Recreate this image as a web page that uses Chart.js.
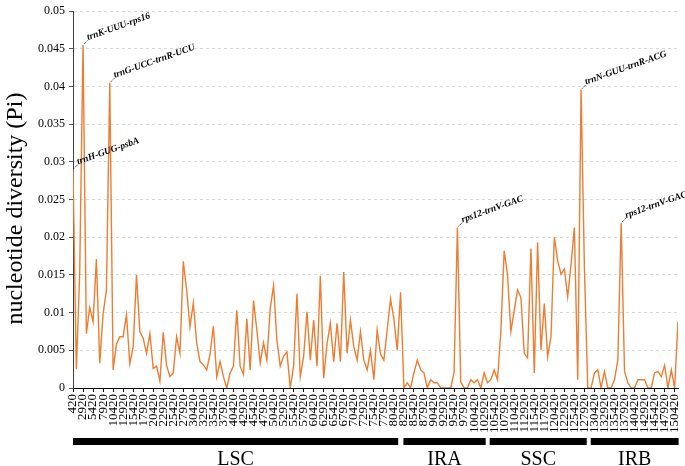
<!DOCTYPE html>
<html>
<head>
<meta charset="utf-8">
<script src="https://cdn.jsdelivr.net/npm/chart.js@4.4.1/dist/chart.umd.min.js"></script>
<style>
  html, body { margin: 0; padding: 0; background: #fff; }
</style>
</head>
<body>
<canvas id="piChart" width="685" height="466"></canvas>
<script>
// Ventanas deslizantes: posición inicial y paso (pb)
const windowStart = 420;
const windowStep = 2500 / 3;

// Valores de diversidad nucleotídica (Pi)
const piValues = [
    0.029, 0.0025, 0.0152, 0.0455, 0.0072, 0.0107, 0.0088, 0.0171, 0.0033, 0.0098,
    0.013, 0.0405, 0.0024, 0.0058, 0.0068, 0.0068, 0.0097, 0.0032, 0.0055, 0.015,
    0.0075, 0.0066, 0.0046, 0.0072, 0.0026, 0.0029, 0.0009, 0.0074, 0.003, 0.0015,
    0.002, 0.0068, 0.0046, 0.0168, 0.013, 0.0081, 0.0113, 0.006, 0.0035, 0.0031,
    0.0024, 0.0045, 0.0082, 0.0015, 0.0035, 0.0015, 0, 0.002, 0.0029, 0.0103,
    0.0029, 0.0018, 0.0092, 0.0024, 0.0116, 0.0077, 0.0033, 0.006, 0.0037, 0.0105,
    0.0136, 0.0064, 0.0029, 0.0042, 0.0048, 0, 0.0029, 0.0125, 0.0015, 0.0042,
    0.0101, 0.0037, 0.009, 0.0029, 0.0149, 0.0013, 0.0059, 0.0086, 0.0035, 0.0086,
    0.0035, 0.0154, 0.0046, 0.009, 0.0055, 0.0037, 0.0075, 0.0037, 0.0024, 0.005,
    0.0011, 0.0077, 0.0045, 0.0037, 0.0077, 0.0118, 0.0092, 0.005, 0.0127, 0,
    0.0007, 0, 0.002, 0.0037, 0.0024, 0.002, 0, 0.0011, 0.0007, 0.0007,
    0, 0, 0, 0, 0.002, 0.0213, 0.0008, 0, 0, 0.0011,
    0.0007, 0.0011, 0, 0.002, 0.0007, 0.0011, 0.0024, 0.0011, 0.0075, 0.0182,
    0.015, 0.0075, 0.0103, 0.013, 0.012, 0.0046, 0.004, 0.0185, 0.002, 0.0193,
    0.005, 0.0112, 0.0042, 0.0068, 0.02, 0.0169, 0.0151, 0.0158, 0.0121, 0.0164,
    0.0213, 0.0011, 0.0396, 0.016, 0, 0, 0.002, 0.0024, 0, 0.0022,
    0, 0, 0.0011, 0.0037, 0.0219, 0.0022, 0.0007, 0, 0, 0.0011,
    0.0011, 0.0011, 0, 0, 0.002, 0.0022, 0.0015, 0.003, 0, 0.0024,
    0, 0.0088
];

// Etiquetas del eje X (posición en pb)
const tickLabels = [];
for (let p = 420; p <= 150420; p += 2500) tickLabels.push(p);

// Regiones del cloroplasto
const regionNames = ['LSC', 'IRA', 'SSC', 'IRB'];
const regionStart = [420, 82800, 104300, 129500];
const regionEnd = [81500, 103300, 128500, 151400];

// Picos anotados (índice de ventana y región intergénica)
const peakIndex = [0, 3, 11, 115, 152, 164];
const peakNames = ['trnH-GUG-psbA', 'trnK-UUU-rps16', 'trnG-UCC-trnR-UCU',
    'rps12-trnV-GAC', 'trnN-GUU-trnR-ACG', 'rps12-trnV-GAC'];

const yTitle = 'nucleotide diversity (Pi)';

const points = piValues.map((v, i) => ({ x: windowStart + i * windowStep, y: v }));

const serif = '"Liberation Serif", "Times New Roman", serif';

// Plugin para dibujar las regiones, el título del eje Y y las anotaciones
const extrasPlugin = {
    id: 'extras',
    afterDraw(chart) {
        const ctx = chart.ctx;
        const xs = chart.scales.x;
        const ys = chart.scales.y;

        // barras de regiones
        const barTop = xs.bottom + 3;
        ctx.save();
        ctx.fillStyle = '#000';
        ctx.font = '20px ' + serif;
        ctx.textAlign = 'center';
        ctx.textBaseline = 'alphabetic';
        regionNames.forEach((name, i) => {
            const x1 = xs.getPixelForValue(regionStart[i]);
            const x2 = xs.getPixelForValue(regionEnd[i]);
            ctx.fillRect(x1, barTop, x2 - x1, 7);
            ctx.fillText(name, (x1 + x2) / 2, barTop + 27);
        });
        ctx.restore();

        // título del eje Y
        ctx.save();
        ctx.fillStyle = '#000';
        ctx.font = '24px ' + serif;
        ctx.textAlign = 'center';
        ctx.textBaseline = 'middle';
        ctx.translate(16, (ys.top + ys.bottom) / 2 + 9);
        ctx.rotate(-Math.PI / 2);
        ctx.fillText(yTitle, 0, 0);
        ctx.restore();

        // anotaciones de picos
        ctx.save();
        ctx.font = 'italic bold 9.5px ' + serif;
        ctx.fillStyle = '#000';
        ctx.strokeStyle = '#000';
        ctx.lineWidth = 1;
        peakIndex.forEach((idx, i) => {
            const px = xs.getPixelForValue(points[idx].x);
            const py = ys.getPixelForValue(points[idx].y);
            ctx.setLineDash([1, 1]);
            ctx.beginPath();
            ctx.moveTo(px + 1, py - 1);
            ctx.lineTo(px + 5, py - 5);
            ctx.stroke();
            ctx.save();
            ctx.translate(px + 5, py - 5);
            ctx.rotate(-0.34);
            ctx.fillText(peakNames[i], 0, 0);
            ctx.restore();
        });
        ctx.restore();
    }
};

const ctx = document.getElementById('piChart').getContext('2d');
new Chart(ctx, {
    type: 'line',
    data: {
        datasets: [{
            data: points,
            borderColor: '#ED7D31',
            borderWidth: 1.4,
            pointRadius: 0,
            tension: 0,
            fill: false
        }]
    },
    options: {
        responsive: false,
        animation: false,
        layout: { padding: { top: 2, right: 7, bottom: 31, left: 34 } },
        plugins: {
            legend: { display: false },
            tooltip: { enabled: false }
        },
        scales: {
            x: {
                type: 'linear',
                min: windowStart,
                max: points[points.length - 1].x,
                afterBuildTicks: axis => {
                    axis.ticks = tickLabels.map(v => ({ value: v }));
                },
                afterFit: axis => {
                    axis.paddingRight = 0;
                },
                ticks: {
                    autoSkip: false,
                    maxRotation: 90,
                    minRotation: 90,
                    padding: 2,
                    color: '#000',
                    font: { family: serif, size: 13 },
                    callback: v => String(v)
                },
                grid: {
                    drawOnChartArea: false,
                    drawTicks: true,
                    tickLength: 4,
                    tickColor: '#000'
                },
                border: { color: '#000', width: 1 }
            },
            y: {
                min: 0,
                max: 0.05,
                ticks: {
                    stepSize: 0.005,
                    padding: 4,
                    color: '#000',
                    font: { family: serif, size: 12 },
                    callback: v => String(+v.toFixed(3))
                },
                grid: {
                    color: c => c.tick.value === 0 ? 'rgba(0,0,0,0)' : '#d9d9d9',
                    tickColor: '#595959',
                    tickLength: 4
                },
                border: { color: '#404040', width: 1, dash: [3, 3] }
            }
        }
    },
    plugins: [extrasPlugin]
});
</script>
</body>
</html>
